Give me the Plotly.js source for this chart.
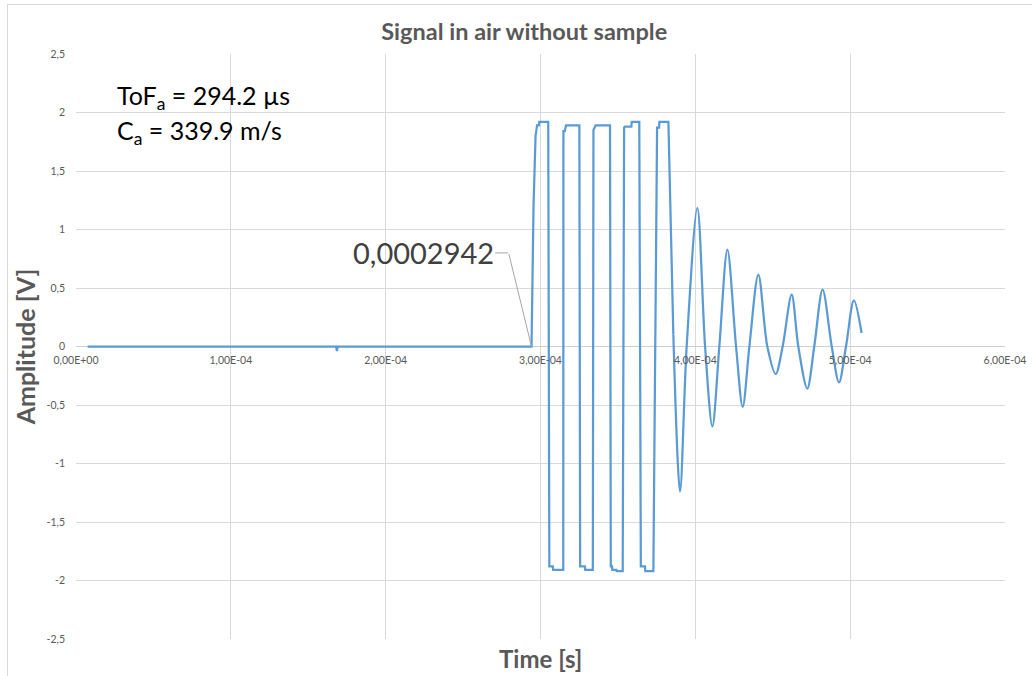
<!DOCTYPE html>
<html>
<head>
<meta charset="utf-8">
<script src="https://cdn.plot.ly/plotly-3.0.1.min.js"></script>
<style>
  html, body { margin: 0; padding: 0; background: #fff; }
  #chart { width: 1032px; height: 676px; position: absolute; left: 0; top: 0; }
  #frame { position: absolute; left: 7px; top: 4px; width: 1060px; height: 700px;
           border-left: 1px solid #d9d9d9; border-top: 1px solid #d9d9d9; pointer-events: none; }
</style>
</head>
<body>
<div id="chart"></div>
<div id="frame"></div>
<script>
// ---- Data ----
// Square-burst part of the received signal (time in s, amplitude in V)
const pulseTime = [
  7.5e-6, 1.680e-4, 1.685e-4, 1.690e-4, 2.942e-4,
  2.946e-4, 2.955e-4, 2.968e-4, 2.978e-4, 2.990e-4, 2.992e-4, 3.050e-4,
  3.057e-4, 3.080e-4, 3.082e-4, 3.147e-4,
  3.148e-4, 3.157e-4, 3.165e-4, 3.251e-4,
  3.256e-4, 3.287e-4, 3.289e-4, 3.338e-4,
  3.342e-4, 3.349e-4, 3.356e-4, 3.449e-4,
  3.454e-4, 3.462e-4, 3.464e-4, 3.490e-4, 3.492e-4, 3.531e-4,
  3.540e-4, 3.546e-4, 3.587e-4, 3.589e-4, 3.638e-4,
  3.648e-4, 3.675e-4, 3.677e-4, 3.729e-4,
  3.753e-4, 3.766e-4, 3.768e-4, 3.826e-4, 3.858e-4
];
const pulseAmp = [
  0, 0, -0.04, 0, 0,
  0.35, 1.2, 1.8, 1.89, 1.89, 1.92, 1.92,
  -1.88, -1.88, -1.91, -1.91,
  1.84, 1.84, 1.89, 1.89,
  -1.88, -1.88, -1.91, -1.91,
  1.85, 1.87, 1.89, 1.89,
  -1.88, -1.88, -1.91, -1.91, -1.92, -1.92,
  1.87, 1.88, 1.88, 1.92, 1.92,
  -1.88, -1.88, -1.92, -1.92,
  1.87, 1.87, 1.92, 1.92, 0.10
];
// Decaying ring-down part after the burst
const ringTime = [
  3.858e-4, 3.901e-4, 3.944e-4, 4.013e-4, 4.063e-4, 4.110e-4, 4.155e-4, 4.207e-4,
  4.263e-4, 4.306e-4, 4.349e-4, 4.407e-4, 4.465e-4, 4.519e-4, 4.564e-4, 4.622e-4,
  4.665e-4, 4.723e-4, 4.768e-4, 4.822e-4, 4.881e-4, 4.928e-4, 4.973e-4, 5.024e-4, 5.074e-4
];
const ringAmp = [
  0.10, -1.24, 0, 1.184, 0, -0.683, 0, 0.827,
  0, -0.517, 0, 0.614, 0, -0.235, 0, 0.443,
  0, -0.36, 0, 0.486, 0, -0.307, 0, 0.394, 0.115
];
// Time-of-flight marker
const tofTime = 2.942e-4;
const tofAmp = 0;
const labelBendTime = 2.791e-4;
const labelBendAmp = 0.80;

// Axis ticks
const xTickVals = [0, 1e-4, 2e-4, 3e-4, 4e-4, 5e-4, 6e-4];
const xTickText = ['0,00E+00', '1,00E-04', '2,00E-04', '3,00E-04', '4,00E-04', '5,00E-04', '6,00E-04'];
const yTickVals = [-2.5, -2, -1.5, -1, -0.5, 0, 0.5, 1, 1.5, 2, 2.5];
const yTickText = ['-2,5', '-2', '-1,5', '-1', '-0,5', '0', '0,5', '1', '1,5', '2', '2,5'];

const titleText = 'Signal in air without sample';
const xTitle = 'Time [s]';
const yTitle = 'Amplitude [V]';
const infoLines = ['ToF<sub>a</sub> = 294.2 µs', 'C<sub>a</sub> = 339.9 m/s'];

// ---- Chart ----
const FONT = 'Lato, "Open Sans", sans-serif';
const lineColor = '#5B9BD5';
const gridColor = '#d9d9d9';
const textGray = '#595959';

const traces = [
  { x: pulseTime, y: pulseAmp, type: 'scatter', mode: 'lines',
    line: { color: lineColor, width: 2.25, shape: 'linear' }, hoverinfo: 'skip' },
  { x: ringTime, y: ringAmp, type: 'scatter', mode: 'lines',
    line: { color: lineColor, width: 2.25, shape: 'spline', smoothing: 0.9 }, hoverinfo: 'skip' }
];

const layout = {
  width: 1032, height: 676,
  paper_bgcolor: '#ffffff', plot_bgcolor: '#ffffff',
  showlegend: false,
  margin: { l: 76, r: 27, t: 54, b: 37, pad: 0 },
  font: { family: FONT, color: textGray },
  title: {
    text: titleText, xref: 'container', x: 0.508, xanchor: 'center',
    yref: 'container', y: 0.953, yanchor: 'middle',
    font: { family: FONT, size: 23.5, color: textGray, weight: 'bold' }
  },
  xaxis: {
    range: [0, 6e-4], tickvals: xTickVals, ticktext: xTickText,
    showgrid: true, gridcolor: gridColor, gridwidth: 1,
    zeroline: false, showline: false, ticks: '',
    anchor: 'free', position: 0.5, ticklabelstandoff: 6,
    tickfont: { family: FONT, size: 10.5, color: textGray }
  },
  yaxis: {
    range: [-2.5, 2.5], tickvals: yTickVals, ticktext: yTickText,
    showgrid: true, gridcolor: gridColor, gridwidth: 1,
    zeroline: true, zerolinecolor: '#cfcfcf', zerolinewidth: 1,
    showline: false, ticks: '', ticklabelstandoff: 10,
    tickfont: { family: FONT, size: 10.5, color: textGray },
    title: { text: yTitle, standoff: 3,
             font: { family: FONT, size: 25, color: textGray, weight: 'bold' } }
  },
  annotations: [
    { xref: 'paper', yref: 'paper', x: 0.5, y: -0.0325, xanchor: 'center', yanchor: 'middle',
      text: xTitle, showarrow: false,
      font: { family: FONT, size: 24, color: textGray, weight: 'bold' } },
    { xref: 'paper', yref: 'paper', x: 0.0423, y: 0.927, xanchor: 'left', yanchor: 'middle',
      text: infoLines[0], showarrow: false, font: { family: FONT, size: 25, color: '#000000' } },
    { xref: 'paper', yref: 'paper', x: 0.0423, y: 0.867, xanchor: 'left', yanchor: 'middle',
      text: infoLines[1], showarrow: false, font: { family: FONT, size: 25, color: '#000000' } },
    { xref: 'x', yref: 'y', x: labelBendTime, y: labelBendAmp,
      text: tofTime.toFixed(7).replace('.', ','),
      showarrow: true, arrowhead: 0, arrowwidth: 1, arrowcolor: '#a6a6a6',
      ax: -85, ay: 0, standoff: 0,
      font: { family: FONT, size: 29, color: '#404040' } },
    { xref: 'x', yref: 'y', x: tofTime, y: tofAmp, text: '',
      showarrow: true, arrowhead: 0, arrowwidth: 1, arrowcolor: '#a6a6a6',
      ax: -23, ay: -94, standoff: 0 }
  ]
};

Plotly.newPlot('chart', traces, layout, { staticPlot: true, displayModeBar: false });
</script>
</body>
</html>
